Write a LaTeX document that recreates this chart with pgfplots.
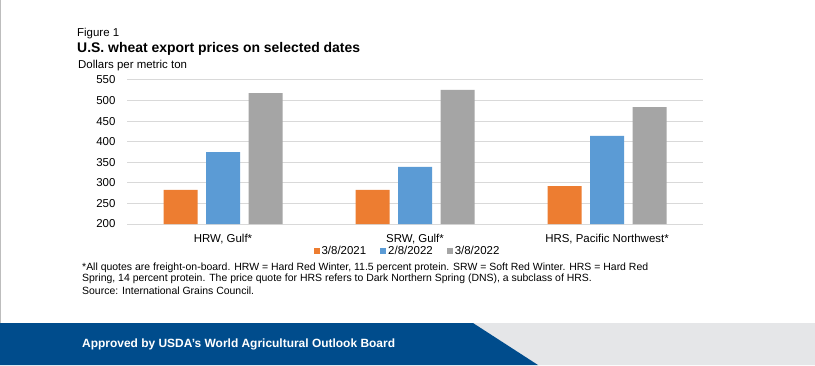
\documentclass[border=0pt]{standalone}
\usepackage{pgfplots}
\pgfplotsset{compat=1.18}
\usepackage{fontspec}
\setmainfont{Liberation Sans}
\definecolor{cOrange}{HTML}{ED7D31}
\definecolor{cBlue}{HTML}{5B9BD5}
\definecolor{cGray}{HTML}{A5A5A5}
\definecolor{cGrid}{HTML}{D9D9D9}
\definecolor{bannerBlue}{HTML}{004C8C}
\definecolor{bannerGray}{HTML}{E5E6E8}
\definecolor{frameGray}{HTML}{BDBDBD}
\begin{document}
\begin{tikzpicture}[x=1bp,y=1bp]
\path[use as bounding box] (0,0) rectangle (815,365);
\fill[white] (0,0) rectangle (815,365);
% banner
\fill[bannerGray] (473,42) -- (815,42) -- (815,0) -- (538,0) -- cycle;
\fill[bannerBlue] (0,0) -- (538,0) -- (473,42) -- (0,42) -- cycle;
\draw[frameGray, line width=1bp] (0.5,42) -- (0.5,365);
\node[anchor=base west, inner sep=0, text=white, font=\fontsize{12}{14}\selectfont\bfseries] at (82,18) {Approved by USDA’s World Agricultural Outlook Board};
% titles
\node[anchor=base west, inner sep=0, font=\fontsize{11.5}{13}\selectfont] at (77,329) {Figure 1};
\node[anchor=base west, inner sep=0, font=\fontsize{14}{16}\selectfont\bfseries] at (77,313) {U.S. wheat export prices on selected dates};
\node[anchor=base west, inner sep=0, font=\fontsize{11.5}{13}\selectfont] at (78,297) {Dollars per metric ton};
% footnotes
\node[anchor=base west, inner sep=0, font=\fontsize{10.5}{12}\selectfont] at (82,95) {*All quotes are freight-on-board. HRW = Hard Red Winter, 11.5 percent protein. SRW = Soft Red Winter. HRS = Hard Red};
\node[anchor=base west, inner sep=0, font=\fontsize{10.5}{12}\selectfont] at (82,83.5) {Spring, 14 percent protein. The price quote for HRS refers to Dark Northern Spring (DNS), a subclass of HRS.};
\node[anchor=base west, inner sep=0, font=\fontsize{10.5}{12}\selectfont] at (82,71) {Source: International Grains Council.};
\begin{axis}[
  at={(127bp,141bp)}, anchor=south west,
  width=576bp, height=144bp, scale only axis,
  ybar=8.5bp, bar width=34bp,
  xmin=-0.5, xmax=2.5, ymin=200, ymax=550,
  ytick={200,250,...,550},
  xtick=data,
  xticklabels={{HRW, Gulf*},{SRW, Gulf*},{HRS, Pacific Northwest*}},
  ymajorgrids, grid style={cGrid, line width=1bp},
  axis line style={draw=none},
  major tick length=0pt,
  tick label style={font=\fontsize{11.5}{13}\selectfont},
  /pgf/number format/assume math mode=true,
  yticklabel style={anchor=east, xshift=-8bp},
  xticklabel style={anchor=north, yshift=-7bp},
  legend columns=3,
  legend style={at={(0.487,-0.1875)}, anchor=center, draw=none, fill=none,
    font=\fontsize{11.5}{13}\selectfont, inner sep=0pt,
    /tikz/every even column/.append style={column sep=12bp},
    nodes={inner xsep=2bp, inner ysep=0pt}},
  legend image code/.code={\fill[#1] (0bp,-3bp) rectangle (6bp,3bp);},
  enlarge x limits=false,
  clip=false,
]
\addplot[fill=cOrange, draw=none] coordinates {(0,283) (1,283) (2,292)};
\addplot[fill=cBlue, draw=none] coordinates {(0,375) (1,339) (2,414)};
\addplot[fill=cGray, draw=none] coordinates {(0,518) (1,526) (2,484)};
\legend{3/8/2021,2/8/2022,3/8/2022}
\end{axis}
\end{tikzpicture}
\end{document}
